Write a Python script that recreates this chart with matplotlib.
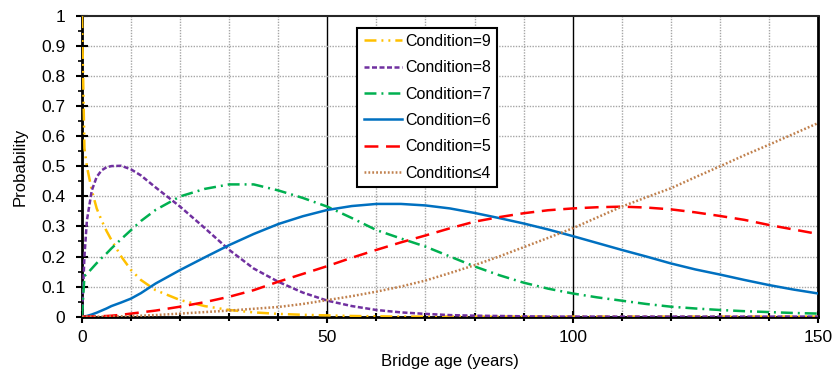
import matplotlib
matplotlib.use("Agg")
import matplotlib.pyplot as plt
from matplotlib.ticker import MultipleLocator

plt.rcParams['font.family'] = ['Liberation Sans', 'DejaVu Sans']
plt.rcParams['lines.scale_dashes'] = False

# Bridge age (years)
ages = [0, 0.5, 1, 2, 3, 4, 5, 6, 8, 10, 12, 15, 20, 25, 30, 35, 40, 45, 50,
        55, 60, 65, 70, 75, 80, 85, 90, 95, 100, 105, 110, 115, 120, 125,
        130, 135, 140, 145, 150]

# Probability of each condition rating at a given age
cond9 = [1.0, 0.56, 0.50, 0.42, 0.36, 0.32, 0.285, 0.255, 0.20, 0.155, 0.122,
         0.088, 0.055, 0.035, 0.022, 0.014, 0.009, 0.006, 0.004, 0.002, 0.001,
         0, 0, 0, 0, 0, 0, 0, 0, 0, 0, 0, 0, 0, 0, 0, 0, 0, 0]
cond8 = [0, 0.20, 0.32, 0.42, 0.465, 0.487, 0.497, 0.501, 0.502, 0.49, 0.47,
         0.43, 0.366, 0.295, 0.222, 0.16, 0.116, 0.08, 0.053, 0.035, 0.022,
         0.014, 0.009, 0.005, 0.003, 0.002, 0.001, 0, 0, 0, 0, 0, 0, 0, 0, 0,
         0, 0, 0]
cond7 = [0, 0.135, 0.142, 0.16, 0.178, 0.195, 0.21, 0.227, 0.258, 0.288, 0.318,
         0.355, 0.40, 0.425, 0.44, 0.44, 0.42, 0.395, 0.366, 0.328, 0.288,
         0.26, 0.233, 0.20, 0.167, 0.138, 0.113, 0.093, 0.077, 0.064, 0.053,
         0.042, 0.033, 0.027, 0.022, 0.018, 0.015, 0.012, 0.01]
cond6 = [0, 0.001, 0.002, 0.007, 0.013, 0.02, 0.027, 0.035, 0.047, 0.06, 0.078,
         0.11, 0.155, 0.197, 0.238, 0.275, 0.308, 0.334, 0.355, 0.368, 0.375,
         0.375, 0.37, 0.36, 0.345, 0.328, 0.31, 0.29, 0.268, 0.245, 0.222,
         0.2, 0.177, 0.157, 0.14, 0.122, 0.105, 0.09, 0.077]
cond5 = [0, 0, 0, 0.0005, 0.001, 0.0015, 0.002, 0.003, 0.006, 0.01, 0.014,
         0.02, 0.033, 0.048, 0.066, 0.088, 0.116, 0.142, 0.168, 0.196, 0.222,
         0.247, 0.27, 0.294, 0.316, 0.331, 0.344, 0.354, 0.36, 0.364, 0.366,
         0.363, 0.357, 0.347, 0.335, 0.322, 0.305, 0.29, 0.275]
cond4 = [0, 0, 0, 0, 0, 0, 0, 0.0005, 0.001, 0.002, 0.003, 0.005, 0.01, 0.015,
         0.02, 0.026, 0.032, 0.042, 0.055, 0.068, 0.083, 0.1, 0.12, 0.145,
         0.171, 0.2, 0.231, 0.262, 0.294, 0.33, 0.366, 0.397, 0.427, 0.464,
         0.50, 0.537, 0.572, 0.608, 0.644]

labels = ["Condition=9", "Condition=8", "Condition=7", "Condition=6",
          "Condition=5", "Condition\u22644"]
yticks = [0, 0.1, 0.2, 0.3, 0.4, 0.5, 0.6, 0.7, 0.8, 0.9, 1]
ytick_labels = ["0", "0.1", "0.2", "0.3", "0.4", "0.5", "0.6", "0.7", "0.8",
                "0.9", "1"]

fig = plt.figure(figsize=(8.34, 3.76), dpi=100)
ax = fig.add_axes([0.0983, 0.158, 0.8825, 0.799])

lw = 1.8
series = [
    (cond9, '#FFC000', (0, (8.6, 3.6, 1.4, 3.6, 1.4, 3.6))),
    (cond8, '#7030A0', (0, (3.6, 1.8))),
    (cond7, '#00B050', (0, (8.6, 3.6, 1.4, 3.6))),
    (cond6, '#0070C0', '-'),
    (cond5, '#FF0000', (0, (10, 5.5))),
    (cond4, '#C0804D', (0, (1.3, 1.5))),
]
for (vals, color, ls), lab in zip(series, labels):
    ax.plot(ages, vals, color=color, linestyle=ls, linewidth=lw, label=lab,
            zorder=3)

ax.set_xlim(0, 150)
ax.set_ylim(0, 1)

ax.xaxis.set_major_locator(MultipleLocator(50))
ax.xaxis.set_minor_locator(MultipleLocator(10))
ax.set_yticks(yticks)
ax.set_yticklabels(ytick_labels)
ax.yaxis.set_minor_locator(MultipleLocator(0.05))

# dotted grid every 10 years / 0.1, solid lines at 50 and 100 years
for x in range(10, 150, 10):
    if x % 50 == 0:
        ax.axvline(x, color='black', linewidth=1.0, zorder=1)
    else:
        ax.axvline(x, color='#A6A6A6', linewidth=1.0, linestyle=(0, (1, 1)),
                   zorder=1)
for y in yticks[1:-1]:
    ax.axhline(y, color='#A6A6A6', linewidth=1.0, linestyle=(0, (1, 1)),
               zorder=1)

ax.tick_params(axis='both', which='major', direction='inout', length=8,
               width=1.5, labelsize=12.5, colors='black')
ax.tick_params(axis='y', which='major', pad=8)
ax.tick_params(axis='y', which='minor', direction='out', length=3, width=1.2)
ax.tick_params(axis='x', which='minor', direction='inout', length=6, width=1.5)
ax.tick_params(axis='x', which='major', pad=6)

for side in ['left', 'bottom', 'right']:
    ax.spines[side].set_linewidth(2.0)
    ax.spines[side].set_color('black')
ax.spines['top'].set_linewidth(1.5)
ax.spines['top'].set_color('#262626')

ax.set_xlabel("Bridge age (years)", fontsize=12, labelpad=6)
ax.set_ylabel("Probability", fontsize=12, labelpad=10)

leg = ax.legend(loc='upper left', bbox_to_anchor=(0.374, 0.962),
                borderaxespad=0, fontsize=11.5, handlelength=2.4,
                handletextpad=0.2, labelspacing=0.71, fancybox=False,
                framealpha=1, edgecolor='black', borderpad=0.4)
leg.get_frame().set_linewidth(1.5)

fig.savefig("out.png", dpi=100)
